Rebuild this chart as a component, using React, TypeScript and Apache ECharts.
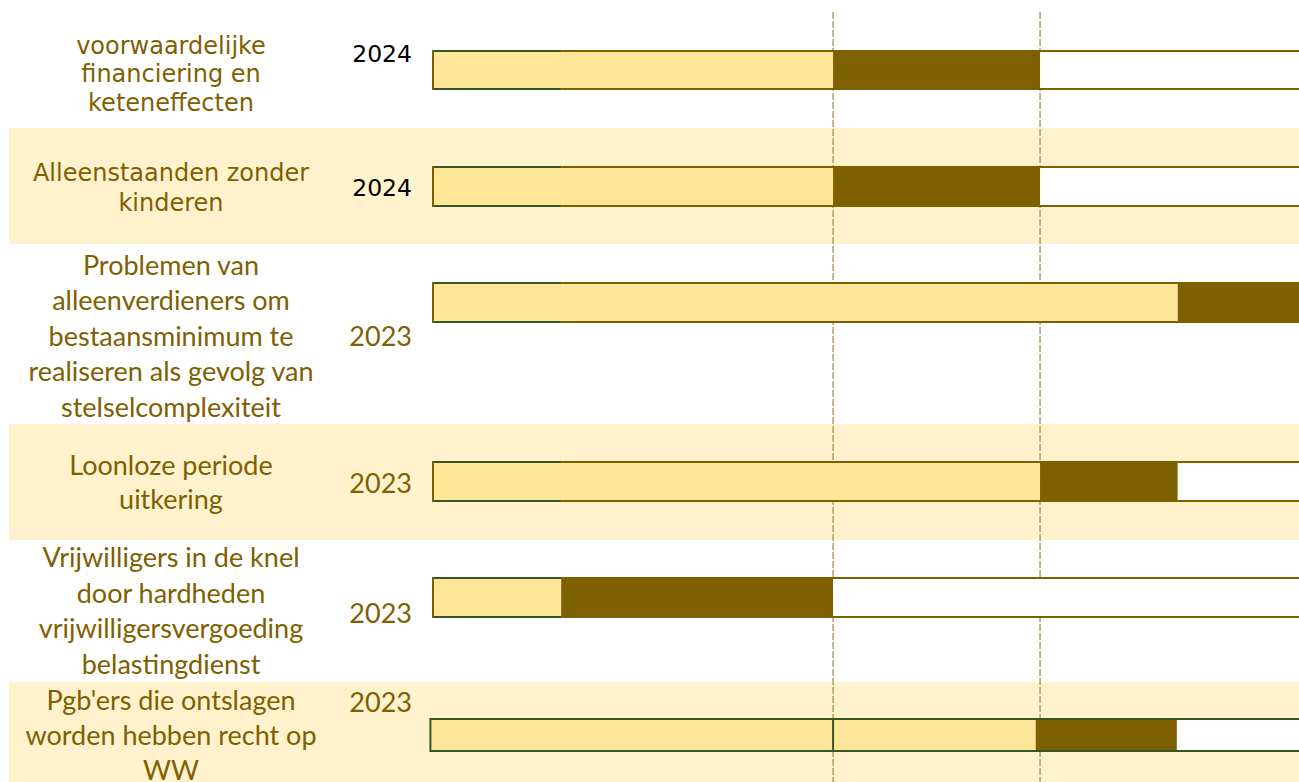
import React, { useEffect, useRef } from "react";
import * as echarts from "echarts";

// ---- data ----
const rowLabels = [
  "voorwaardelijke\nfinanciering en\nketeneffecten",
  "Alleenstaanden zonder\nkinderen",
  "Problemen van\nalleenverdieners om\nbestaansminimum te\nrealiseren als gevolg van\nstelselcomplexiteit",
  "Loonloze periode\nuitkering",
  "Vrijwilligers in de knel\ndoor hardheden\nvrijwilligersvergoeding\nbelastingdienst",
  "Pgb'ers die ontslagen\nworden hebben recht op\nWW",
];
const rowYears = ["2024", "2024", "2023", "2023", "2023", "2023"];
// timeline positions (0 = start of bar, 100 = end of visible timeline)
const barStart = [0, 0, 0, 0, 0, -0.3];
const lightEnd = [46.2, 46.2, 86.0, 70.1, 14.8, 69.6];
const darkEnd = [70.1, 70.1, 100, 86.0, 46.2, 85.9];
const greenEnd = [14.8, 14.8, 14.8, 14.8, 14.8, 100];
const innerDivider = [null, null, null, null, null, 46.2];
const milestones = [46.2, 70.1];

// ---- layout (vertical units of the row axis) ----
const bandTop = [0, 128, 244, 424, 540, 682];
const bandBottom = [128, 244, 424, 540, 682, 782];
const bandShaded = [false, true, false, true, false, true];
const barCenter = [70, 186.5, 302.5, 481.5, 597.5, 735];
const barHeight = [38, 39, 39, 39, 39, 32];
const labelCenter = [74, 188, 335, 481.5, 610, 734];
const labelLineHeight = [28.5, 30, 35.5, 34, 35.7, 35];
const yearCenter = [54, 188, 335, 482, 612, 701];
const labelFont = [
  '24px "DejaVu Sans"',
  '24px "DejaVu Sans"',
  '27px Lato',
  '27px Lato',
  '27px Lato',
  '27px Lato',
];
const yearFont = [
  '23.5px "DejaVu Sans"',
  '23.5px "DejaVu Sans"',
  '27px Lato',
  '27px Lato',
  '27px Lato',
  '27px Lato',
];
const yearColor = ["#000000", "#000000", "#7F6000", "#7F6000", "#7F6000", "#7F6000"];

const LIGHT = "#FFE699";
const DARK = "#7F6000";
const BAND = "#FFF2CC";
const GREEN = "#375623";
const BROWN = "#7F6000";
const TEXT = "#7F6000";

export default function App() {
  const ref = useRef<HTMLDivElement>(null);
  useEffect(() => {
    if (!ref.current) return;
    const chart = echarts.init(ref.current, undefined, { renderer: "svg" });
    const rowIdx = rowLabels.map((_, i) => [i, 0]);

    chart.setOption({
      animation: false,
      grid: { left: 433, right: 0, top: 0, bottom: 0 },
      xAxis: { type: "value", min: 0, max: 100, show: false },
      yAxis: { type: "value", min: 0, max: 782, inverse: true, show: false },
      series: [
        {
          type: "custom",
          name: "bands",
          z: 0,
          clip: false,
          silent: true,
          data: rowIdx,
          renderItem: (params: any, api: any) => {
            const i = params.dataIndex;
            if (!bandShaded[i]) return { type: "group", children: [] };
            const cs = params.coordSys;
            const y0 = api.coord([0, bandTop[i]])[1];
            const y1 = api.coord([0, bandBottom[i]])[1];
            const x0 = cs.x - 424;
            return {
              type: "rect",
              shape: { x: x0, y: y0, width: cs.x + cs.width - x0, height: y1 - y0 },
              style: { fill: BAND },
            };
          },
        },
        {
          type: "custom",
          name: "milestones",
          z: 1,
          clip: false,
          silent: true,
          data: milestones.map((m) => [m, 0]),
          renderItem: (params: any, api: any) => {
            const x = api.coord([api.value(0), 0])[0];
            const yA = api.coord([0, 12])[1];
            const yB = api.coord([0, 782])[1];
            return {
              type: "line",
              shape: { x1: x, y1: yA, x2: x, y2: yB },
              style: { stroke: "#A68E50", lineWidth: 1.3, lineDash: [7, 2] },
            };
          },
        },
        {
          type: "custom",
          name: "bars",
          z: 2,
          clip: false,
          silent: true,
          data: rowLabels.map((_, i) => [barStart[i], lightEnd[i], darkEnd[i], greenEnd[i]]),
          renderItem: (params: any, api: any) => {
            const i = params.dataIndex;
            const xs = api.coord([api.value(0), 0])[0];
            const xl = api.coord([api.value(1), 0])[0];
            const xd = api.coord([api.value(2), 0])[0];
            const xg = api.coord([api.value(3), 0])[0];
            const xe = api.coord([100, 0])[0];
            const yt = api.coord([0, barCenter[i] - barHeight[i] / 2])[1];
            const yb = api.coord([0, barCenter[i] + barHeight[i] / 2])[1];
            const h = yb - yt;
            const children: any[] = [];
            children.push({ type: "rect", shape: { x: xs, y: yt, width: xl - xs, height: h }, style: { fill: LIGHT } });
            if (xd > xl)
              children.push({ type: "rect", shape: { x: xl, y: yt, width: xd - xl, height: h }, style: { fill: DARK } });
            if (xe > xd)
              children.push({ type: "rect", shape: { x: xd, y: yt, width: xe - xd, height: h }, style: { fill: "#FFFFFF" } });
            const gEnd = Math.min(xg, xe);
            [yt, yb].forEach((yy) => {
              children.push({ type: "line", shape: { x1: xs, y1: yy, x2: gEnd, y2: yy }, style: { stroke: GREEN, lineWidth: 2 } });
              if (xe > gEnd)
                children.push({ type: "line", shape: { x1: gEnd, y1: yy, x2: xe, y2: yy }, style: { stroke: BROWN, lineWidth: 2 } });
            });
            children.push({
              type: "line",
              shape: { x1: xs, y1: yt - 1, x2: xs, y2: yb + 1 },
              style: { stroke: xg >= xe ? GREEN : BROWN, lineWidth: 2 },
            });
            const dv = innerDivider[i];
            if (dv != null) {
              const xv = api.coord([dv, 0])[0];
              children.push({ type: "line", shape: { x1: xv, y1: yt, x2: xv, y2: yb }, style: { stroke: GREEN, lineWidth: 2 } });
            }
            return { type: "group", children };
          },
        },
        {
          type: "custom",
          name: "labels",
          z: 3,
          clip: false,
          silent: true,
          data: rowIdx,
          renderItem: (params: any, api: any) => {
            const i = params.dataIndex;
            const cs = params.coordSys;
            const yl = api.coord([0, labelCenter[i]])[1];
            const yy = api.coord([0, yearCenter[i]])[1];
            return {
              type: "group",
              children: [
                {
                  type: "text",
                  x: cs.x - 262,
                  y: yl,
                  style: {
                    text: rowLabels[i],
                    fill: TEXT,
                    font: labelFont[i],
                    align: "center",
                    verticalAlign: "middle",
                    lineHeight: labelLineHeight[i],
                  },
                },
                {
                  type: "text",
                  x: cs.x - 21,
                  y: yy,
                  style: {
                    text: rowYears[i],
                    fill: yearColor[i],
                    font: yearFont[i],
                    align: "right",
                    verticalAlign: "middle",
                  },
                },
              ],
            };
          },
        },
      ],
    });
    return () => chart.dispose();
  }, []);
  return (
    <div
      ref={ref}
      style={{ position: "absolute", left: 0, top: 0, width: 1299, height: 782, background: "#FFFFFF" }}
    />
  );
}
